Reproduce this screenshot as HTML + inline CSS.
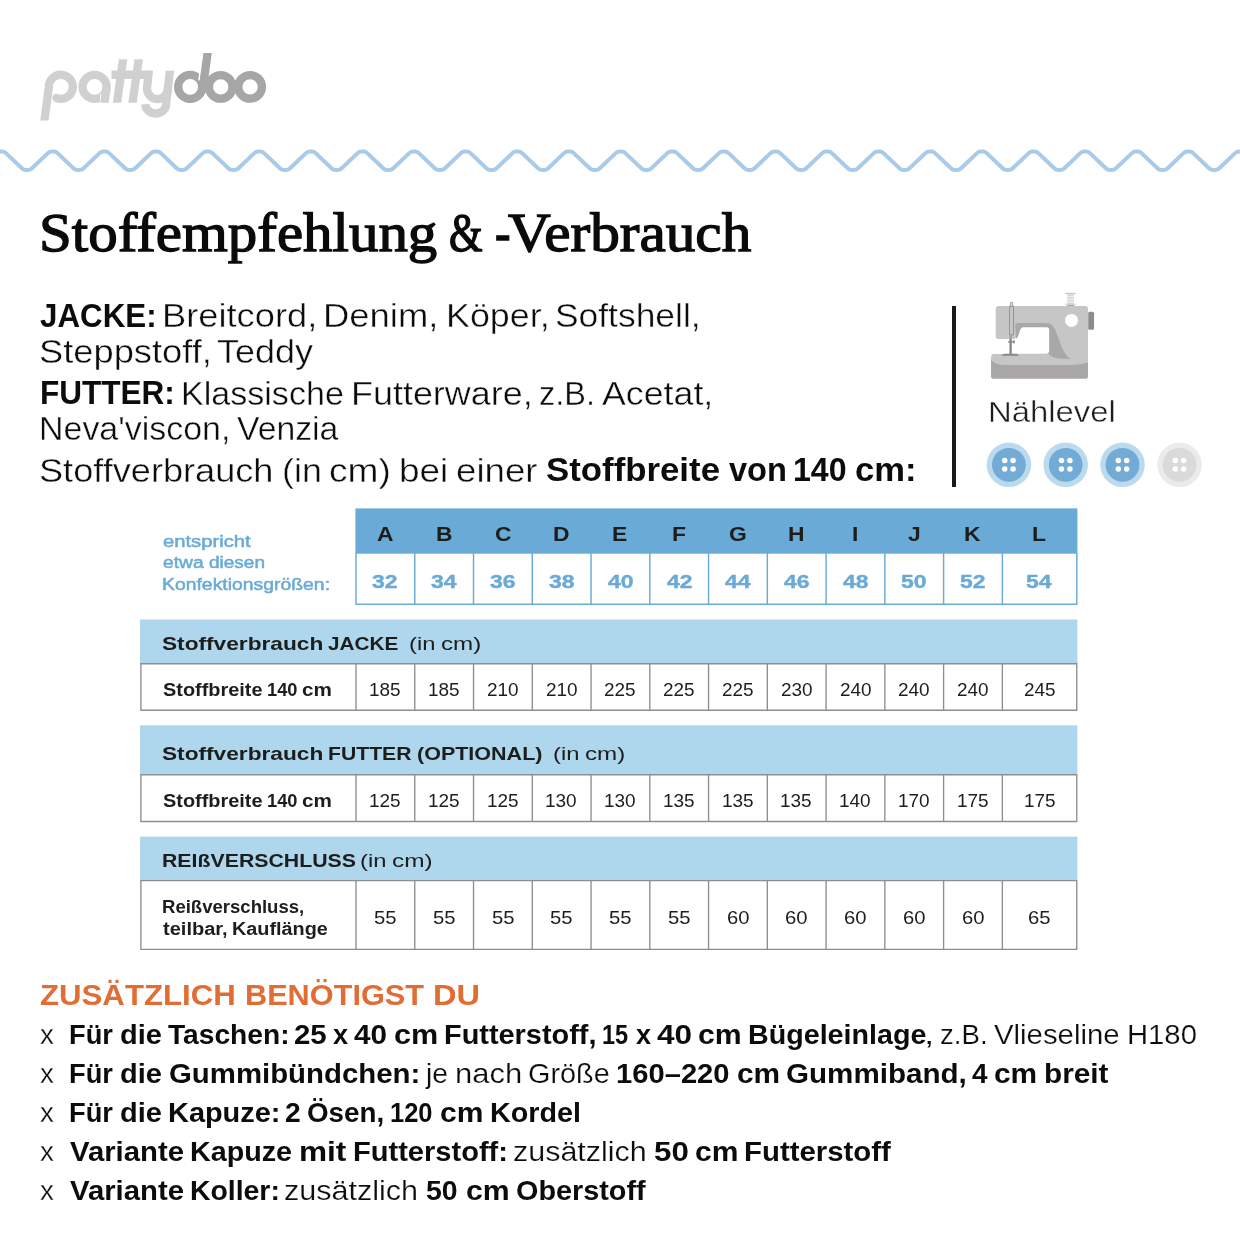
<!DOCTYPE html>
<html lang="de"><head><meta charset="utf-8"><title>Stoffempfehlung &amp; -Verbrauch</title>
<style>
html,body{margin:0;padding:0;background:#fff;}
body{width:1240px;height:1240px;position:relative;overflow:hidden;font-family:"Liberation Sans",sans-serif;}
svg{position:absolute;left:0;top:0;}
span{position:absolute;white-space:pre;line-height:1;transform-origin:0 0;display:block;}
.s{font-family:"Liberation Sans",sans-serif;font-weight:400;}
.f{font-family:"Liberation Serif",serif;font-weight:400;}
.b{font-weight:700;}
</style></head>
<body>
<svg width="1240" height="1240" viewBox="0 0 1240 1240">
<defs>
<clipPath id="cp"><rect x="0" y="60" width="300" height="60.6"/></clipPath>
<clipPath id="ca"><rect x="0" y="60" width="300" height="42.8"/></clipPath>
<clipPath id="ct"><rect x="0" y="59.2" width="300" height="43.6"/></clipPath>
<clipPath id="cy"><rect x="0" y="70.8" width="300" height="60"/></clipPath>
<clipPath id="cd"><rect x="0" y="52.9" width="300" height="60"/></clipPath>
</defs>
<g fill="none" stroke="#d0d0d0" stroke-width="8.3" stroke-linejoin="round">
<path clip-path="url(#cp)" d="M43.9,124.4 L48.85,87.0 A12,12 0 1 1 56.4,97.9"/>
<circle cx="56.4" cy="97.9" r="4.15" fill="#d0d0d0" stroke="none"/>
<circle cx="94.6" cy="86.9" r="12"/>
<path d="M100.7,93.8 V104" stroke="#fff" stroke-width="1.3"/>
<path clip-path="url(#ca)" d="M104.0,106.7 L106.6,86.9"/>
<path clip-path="url(#ct)" d="M123.6,55.2 L116.5,106.8"/>
<path clip-path="url(#ct)" d="M139.35,55.2 L131.95,106.8"/>
<path d="M111.5,74.75 H151"/>
<path clip-path="url(#cy)" d="M149.4,66.0 L147.0,88.0 A10.45,10.8 0 0 0 167.9,88.6"/>
<path clip-path="url(#cy)" d="M170.5,66.0 L166.2,103.0 A10.5,9.9 0 0 1 145.2,104.2"/>
</g>
<g fill="none" stroke="#a6a6a6" stroke-width="8.3">
<circle cx="190.2" cy="86.9" r="12"/>
<path d="M200.60,68 L198.97,80.3" stroke="#fff" stroke-width="1.6"/>
<path clip-path="url(#cd)" d="M208.25,48 L202.42,92"/>
<circle cx="220.7" cy="86.9" r="11.8"/>
<circle cx="250.1" cy="86.9" r="11.8"/>
</g>
<path d="M-53.72,151.60L-49.55,151.60A5.6,5.6 0 0 1 -45.70,153.14L-29.53,168.46A5.6,5.6 0 0 0 -25.68,170.00L-23.74,170.00A5.6,5.6 0 0 0 -19.89,168.46L-3.72,153.14A5.6,5.6 0 0 1 0.13,151.60L2.07,151.60A5.6,5.6 0 0 1 5.92,153.14L22.09,168.46A5.6,5.6 0 0 0 25.94,170.00L27.88,170.00A5.6,5.6 0 0 0 31.73,168.46L47.90,153.14A5.6,5.6 0 0 1 51.75,151.60L53.69,151.60A5.6,5.6 0 0 1 57.54,153.14L73.71,168.46A5.6,5.6 0 0 0 77.56,170.00L79.50,170.00A5.6,5.6 0 0 0 83.35,168.46L99.52,153.14A5.6,5.6 0 0 1 103.37,151.60L105.31,151.60A5.6,5.6 0 0 1 109.16,153.14L125.33,168.46A5.6,5.6 0 0 0 129.18,170.00L131.12,170.00A5.6,5.6 0 0 0 134.97,168.46L151.14,153.14A5.6,5.6 0 0 1 154.99,151.60L156.93,151.60A5.6,5.6 0 0 1 160.78,153.14L176.95,168.46A5.6,5.6 0 0 0 180.80,170.00L182.74,170.00A5.6,5.6 0 0 0 186.59,168.46L202.76,153.14A5.6,5.6 0 0 1 206.61,151.60L208.55,151.60A5.6,5.6 0 0 1 212.40,153.14L228.57,168.46A5.6,5.6 0 0 0 232.42,170.00L234.36,170.00A5.6,5.6 0 0 0 238.21,168.46L254.38,153.14A5.6,5.6 0 0 1 258.23,151.60L260.17,151.60A5.6,5.6 0 0 1 264.02,153.14L280.19,168.46A5.6,5.6 0 0 0 284.04,170.00L285.98,170.00A5.6,5.6 0 0 0 289.83,168.46L306.00,153.14A5.6,5.6 0 0 1 309.85,151.60L311.79,151.60A5.6,5.6 0 0 1 315.64,153.14L331.81,168.46A5.6,5.6 0 0 0 335.66,170.00L337.60,170.00A5.6,5.6 0 0 0 341.45,168.46L357.62,153.14A5.6,5.6 0 0 1 361.47,151.60L363.41,151.60A5.6,5.6 0 0 1 367.26,153.14L383.43,168.46A5.6,5.6 0 0 0 387.28,170.00L389.22,170.00A5.6,5.6 0 0 0 393.07,168.46L409.24,153.14A5.6,5.6 0 0 1 413.09,151.60L415.03,151.60A5.6,5.6 0 0 1 418.88,153.14L435.05,168.46A5.6,5.6 0 0 0 438.90,170.00L440.84,170.00A5.6,5.6 0 0 0 444.69,168.46L460.86,153.14A5.6,5.6 0 0 1 464.71,151.60L466.65,151.60A5.6,5.6 0 0 1 470.50,153.14L486.67,168.46A5.6,5.6 0 0 0 490.52,170.00L492.46,170.00A5.6,5.6 0 0 0 496.31,168.46L512.48,153.14A5.6,5.6 0 0 1 516.33,151.60L518.27,151.60A5.6,5.6 0 0 1 522.12,153.14L538.29,168.46A5.6,5.6 0 0 0 542.14,170.00L544.08,170.00A5.6,5.6 0 0 0 547.93,168.46L564.10,153.14A5.6,5.6 0 0 1 567.95,151.60L569.89,151.60A5.6,5.6 0 0 1 573.74,153.14L589.91,168.46A5.6,5.6 0 0 0 593.76,170.00L595.70,170.00A5.6,5.6 0 0 0 599.55,168.46L615.72,153.14A5.6,5.6 0 0 1 619.57,151.60L621.51,151.60A5.6,5.6 0 0 1 625.36,153.14L641.53,168.46A5.6,5.6 0 0 0 645.38,170.00L647.32,170.00A5.6,5.6 0 0 0 651.17,168.46L667.34,153.14A5.6,5.6 0 0 1 671.19,151.60L673.13,151.60A5.6,5.6 0 0 1 676.98,153.14L693.15,168.46A5.6,5.6 0 0 0 697.00,170.00L698.94,170.00A5.6,5.6 0 0 0 702.79,168.46L718.96,153.14A5.6,5.6 0 0 1 722.81,151.60L724.75,151.60A5.6,5.6 0 0 1 728.60,153.14L744.77,168.46A5.6,5.6 0 0 0 748.62,170.00L750.56,170.00A5.6,5.6 0 0 0 754.41,168.46L770.58,153.14A5.6,5.6 0 0 1 774.43,151.60L776.37,151.60A5.6,5.6 0 0 1 780.22,153.14L796.39,168.46A5.6,5.6 0 0 0 800.24,170.00L802.18,170.00A5.6,5.6 0 0 0 806.03,168.46L822.20,153.14A5.6,5.6 0 0 1 826.05,151.60L827.99,151.60A5.6,5.6 0 0 1 831.84,153.14L848.01,168.46A5.6,5.6 0 0 0 851.86,170.00L853.80,170.00A5.6,5.6 0 0 0 857.65,168.46L873.82,153.14A5.6,5.6 0 0 1 877.67,151.60L879.61,151.60A5.6,5.6 0 0 1 883.46,153.14L899.63,168.46A5.6,5.6 0 0 0 903.48,170.00L905.42,170.00A5.6,5.6 0 0 0 909.27,168.46L925.44,153.14A5.6,5.6 0 0 1 929.29,151.60L931.23,151.60A5.6,5.6 0 0 1 935.08,153.14L951.25,168.46A5.6,5.6 0 0 0 955.10,170.00L957.04,170.00A5.6,5.6 0 0 0 960.89,168.46L977.06,153.14A5.6,5.6 0 0 1 980.91,151.60L982.85,151.60A5.6,5.6 0 0 1 986.70,153.14L1002.87,168.46A5.6,5.6 0 0 0 1006.72,170.00L1008.66,170.00A5.6,5.6 0 0 0 1012.51,168.46L1028.68,153.14A5.6,5.6 0 0 1 1032.53,151.60L1034.47,151.60A5.6,5.6 0 0 1 1038.32,153.14L1054.49,168.46A5.6,5.6 0 0 0 1058.34,170.00L1060.28,170.00A5.6,5.6 0 0 0 1064.13,168.46L1080.30,153.14A5.6,5.6 0 0 1 1084.15,151.60L1086.09,151.60A5.6,5.6 0 0 1 1089.94,153.14L1106.11,168.46A5.6,5.6 0 0 0 1109.96,170.00L1111.90,170.00A5.6,5.6 0 0 0 1115.75,168.46L1131.92,153.14A5.6,5.6 0 0 1 1135.77,151.60L1137.71,151.60A5.6,5.6 0 0 1 1141.56,153.14L1157.73,168.46A5.6,5.6 0 0 0 1161.58,170.00L1163.52,170.00A5.6,5.6 0 0 0 1167.37,168.46L1183.54,153.14A5.6,5.6 0 0 1 1187.39,151.60L1189.33,151.60A5.6,5.6 0 0 1 1193.18,153.14L1209.35,168.46A5.6,5.6 0 0 0 1213.20,170.00L1215.14,170.00A5.6,5.6 0 0 0 1218.99,168.46L1235.16,153.14A5.6,5.6 0 0 1 1239.01,151.60L1240.95,151.60A5.6,5.6 0 0 1 1244.80,153.14L1260.97,168.46A5.6,5.6 0 0 0 1264.82,170.00L1266.76,170.00A5.6,5.6 0 0 0 1270.61,168.46L1286.78,153.14A5.6,5.6 0 0 1 1290.63,151.60L1292.57,151.60A5.6,5.6 0 0 1 1296.42,153.14L1312.59,168.46A5.6,5.6 0 0 0 1316.44,170.00L1320.61,170.00" fill="none" stroke="#a9cae8" stroke-width="4"/>
<rect x="952" y="306" width="4" height="181" fill="#1a1a1a"/>
<g transform="translate(980,285) scale(0.104843)">
<rect x="831" y="84" width="66" height="108" fill="#ececec"/>
<rect x="831" y="88" width="66" height="14" fill="#d6d6d6"/>
<rect x="831" y="116" width="66" height="12" fill="#d6d6d6"/>
<rect x="831" y="144" width="66" height="10" fill="#d6d6d6"/>
<rect x="831" y="170" width="66" height="16" fill="#d6d6d6"/>
<rect x="810" y="75" width="106" height="10" rx="5" fill="#cdcdcd"/>
<rect x="810" y="179" width="106" height="11" rx="5" fill="#d6d6d6"/>
<rect x="831" y="190" width="66" height="13" fill="#a6a6a6"/>
<path fill="#c6c6c6" d="M150,228 Q150,200 178,200 L1002,200 Q1030,200 1030,228 L1030,800 L655,800 L655,420 L345,420 L345,490 Q345,515 320,515 L175,515 Q150,515 150,490 Z"/>
<path fill="#c6c6c6" d="M105,690 Q105,655 140,655 L1030,655 L1030,800 L105,800 Z"/>
<path fill="#a9a7a8" d="M105,712 C150,762 210,762 260,762 L850,762 C930,762 990,757 1030,738 L1030,870 Q1030,895 1005,895 L130,895 Q105,895 105,870 Z"/>
<path fill="#a9a7a8" d="M336,388 Q336,362 362,362 L630,362 C700,362 722,430 760,540 C790,625 820,680 864,703 L770,703 Q690,697 652,655 L345,655 L345,515 Z"/>
<path fill="#fff" d="M412,402 L635,402 Q660,402 660,427 L660,628 Q660,655 633,655 L140,655 L140,518 L330,518 Q360,512 372,465 Q384,402 412,402 Z"/>
<rect x="1032" y="255" width="56" height="172" rx="15" fill="#8d8d8d"/>
<circle cx="873" cy="338" r="62" fill="#fff"/>
<rect x="283" y="203" width="36" height="273" fill="#c6c6c6" stroke="#868686" stroke-width="7"/>
<rect x="290" y="166" width="22" height="36" rx="4" fill="#e8e8e8" stroke="#868686" stroke-width="7"/>
<rect x="281" y="470" width="24" height="50" fill="#a2a2a2"/>
<rect x="281" y="515" width="22" height="145" fill="#868686"/>
<rect x="268" y="536" width="64" height="14" rx="5" fill="#868686"/>
<rect x="318" y="525" width="12" height="34" rx="4" fill="#868686"/>
<path fill="#868686" d="M205,675 Q215,655 240,655 L345,655 Q365,658 372,675 Z"/>
</g>
<circle cx="1008.9" cy="464.8" r="22.3" fill="#bcdaee"/><circle cx="1008.9" cy="464.8" r="16.9" fill="#72abd5"/>
<circle cx="1004.6999999999999" cy="460.6" r="2.75" fill="#fff"/>
<circle cx="1004.6999999999999" cy="469.0" r="2.75" fill="#fff"/>
<circle cx="1013.1" cy="460.6" r="2.75" fill="#fff"/>
<circle cx="1013.1" cy="469.0" r="2.75" fill="#fff"/>
<circle cx="1065.7" cy="464.8" r="22.3" fill="#bcdaee"/><circle cx="1065.7" cy="464.8" r="16.9" fill="#72abd5"/>
<circle cx="1061.5" cy="460.6" r="2.75" fill="#fff"/>
<circle cx="1061.5" cy="469.0" r="2.75" fill="#fff"/>
<circle cx="1069.9" cy="460.6" r="2.75" fill="#fff"/>
<circle cx="1069.9" cy="469.0" r="2.75" fill="#fff"/>
<circle cx="1122.5" cy="464.8" r="22.3" fill="#bcdaee"/><circle cx="1122.5" cy="464.8" r="16.9" fill="#72abd5"/>
<circle cx="1118.3" cy="460.6" r="2.75" fill="#fff"/>
<circle cx="1118.3" cy="469.0" r="2.75" fill="#fff"/>
<circle cx="1126.7" cy="460.6" r="2.75" fill="#fff"/>
<circle cx="1126.7" cy="469.0" r="2.75" fill="#fff"/>
<circle cx="1179.5" cy="464.8" r="22.3" fill="#ebebeb"/><circle cx="1179.5" cy="464.8" r="16.9" fill="#dadada"/>
<circle cx="1175.3" cy="460.6" r="2.75" fill="#fff"/>
<circle cx="1175.3" cy="469.0" r="2.75" fill="#fff"/>
<circle cx="1183.7" cy="460.6" r="2.75" fill="#fff"/>
<circle cx="1183.7" cy="469.0" r="2.75" fill="#fff"/>
<rect x="355.4" y="508.4" width="722.0" height="45.3" fill="#6aaad6"/>
<g stroke="#6aaad6" stroke-width="1.45" fill="none">
<path d="M356.0,553 V604.3 H1076.8 V553"/>
<path d="M414.76,553 V604.3"/>
<path d="M473.52,553 V604.3"/>
<path d="M532.28,553 V604.3"/>
<path d="M591.04,553 V604.3"/>
<path d="M649.80,553 V604.3"/>
<path d="M708.56,553 V604.3"/>
<path d="M767.32,553 V604.3"/>
<path d="M826.08,553 V604.3"/>
<path d="M884.84,553 V604.3"/>
<path d="M943.60,553 V604.3"/>
<path d="M1002.36,553 V604.3"/>
</g>
<rect x="140.05" y="619.5" width="937.35" height="44.50" fill="#aed6ed"/>
<g stroke="#8e8e8e" stroke-width="1.35" fill="none">
<path d="M140.9,663.7 H1076.75 V710.2 H140.9 Z"/>
<path d="M356.00,663.7 V710.2"/>
<path d="M414.76,663.7 V710.2"/>
<path d="M473.52,663.7 V710.2"/>
<path d="M532.28,663.7 V710.2"/>
<path d="M591.04,663.7 V710.2"/>
<path d="M649.80,663.7 V710.2"/>
<path d="M708.56,663.7 V710.2"/>
<path d="M767.32,663.7 V710.2"/>
<path d="M826.08,663.7 V710.2"/>
<path d="M884.84,663.7 V710.2"/>
<path d="M943.60,663.7 V710.2"/>
<path d="M1002.36,663.7 V710.2"/>
</g>
<rect x="140.05" y="725.3" width="937.35" height="49.70" fill="#aed6ed"/>
<g stroke="#8e8e8e" stroke-width="1.35" fill="none">
<path d="M140.9,774.7 H1076.75 V821.5 H140.9 Z"/>
<path d="M356.00,774.7 V821.5"/>
<path d="M414.76,774.7 V821.5"/>
<path d="M473.52,774.7 V821.5"/>
<path d="M532.28,774.7 V821.5"/>
<path d="M591.04,774.7 V821.5"/>
<path d="M649.80,774.7 V821.5"/>
<path d="M708.56,774.7 V821.5"/>
<path d="M767.32,774.7 V821.5"/>
<path d="M826.08,774.7 V821.5"/>
<path d="M884.84,774.7 V821.5"/>
<path d="M943.60,774.7 V821.5"/>
<path d="M1002.36,774.7 V821.5"/>
</g>
<rect x="140.05" y="836.6" width="937.35" height="44.30" fill="#aed6ed"/>
<g stroke="#8e8e8e" stroke-width="1.35" fill="none">
<path d="M140.9,880.6 H1076.75 V949.3 H140.9 Z"/>
<path d="M356.00,880.6 V949.3"/>
<path d="M414.76,880.6 V949.3"/>
<path d="M473.52,880.6 V949.3"/>
<path d="M532.28,880.6 V949.3"/>
<path d="M591.04,880.6 V949.3"/>
<path d="M649.80,880.6 V949.3"/>
<path d="M708.56,880.6 V949.3"/>
<path d="M767.32,880.6 V949.3"/>
<path d="M826.08,880.6 V949.3"/>
<path d="M884.84,880.6 V949.3"/>
<path d="M943.60,880.6 V949.3"/>
<path d="M1002.36,880.6 V949.3"/>
</g>
</svg>
<div style="position:absolute;left:0;top:0;width:1240px;height:1240px;will-change:transform;">
<span class="f" style="left:38.98px;top:205.00px;font-size:55.42px;color:#0a0a0a;transform:scaleX(1.0638);-webkit-text-stroke:1.3px #0a0a0a;">Stoffempfehlung</span>
<span class="f" style="left:448.82px;top:205.00px;font-size:55.42px;color:#0a0a0a;transform:scaleX(0.7790);-webkit-text-stroke:1.3px #0a0a0a;">&amp;</span>
<span class="f" style="left:495.28px;top:205.00px;font-size:55.42px;color:#0a0a0a;transform:scaleX(0.8432);-webkit-text-stroke:1.3px #0a0a0a;">-</span>
<span class="f" style="left:507.86px;top:205.00px;font-size:55.42px;color:#0a0a0a;transform:scaleX(1.0684);-webkit-text-stroke:1.3px #0a0a0a;">Verbrauch</span>
<span class="s b" style="left:39.59px;top:300.00px;font-size:32.46px;color:#0c0c0c;transform:scaleX(0.9648);">JACKE:</span>
<span class="s" style="left:162.38px;top:300.00px;font-size:32.46px;color:#0c0c0c;transform:scaleX(1.1179);-webkit-text-stroke:0.4px #fff;">Breitcord,</span>
<span class="s" style="left:323.37px;top:300.00px;font-size:32.46px;color:#0c0c0c;transform:scaleX(1.1225);-webkit-text-stroke:0.4px #fff;">Denim,</span>
<span class="s" style="left:445.82px;top:300.00px;font-size:32.46px;color:#0c0c0c;transform:scaleX(1.1044);-webkit-text-stroke:0.4px #fff;">Köper,</span>
<span class="s" style="left:555.36px;top:300.00px;font-size:32.46px;color:#0c0c0c;transform:scaleX(1.0906);-webkit-text-stroke:0.4px #fff;">Softshell,</span>
<span class="s" style="left:39.11px;top:336.00px;font-size:32.46px;color:#0c0c0c;transform:scaleX(1.1186);-webkit-text-stroke:0.4px #fff;">Steppstoff,</span>
<span class="s" style="left:217.08px;top:336.00px;font-size:32.46px;color:#0c0c0c;transform:scaleX(1.1072);-webkit-text-stroke:0.4px #fff;">Teddy</span>
<span class="s b" style="left:40.12px;top:377.00px;font-size:32.46px;color:#0c0c0c;transform:scaleX(0.9715);">FUTTER:</span>
<span class="s" style="left:180.97px;top:378.00px;font-size:32.46px;color:#0c0c0c;transform:scaleX(1.0497);-webkit-text-stroke:0.4px #fff;">Klassische</span>
<span class="s" style="left:351.41px;top:378.00px;font-size:32.46px;color:#0c0c0c;transform:scaleX(1.1069);-webkit-text-stroke:0.4px #fff;">Futterware,</span>
<span class="s" style="left:538.91px;top:378.00px;font-size:32.46px;color:#0c0c0c;transform:scaleX(1.0011);-webkit-text-stroke:0.4px #fff;">z.B.</span>
<span class="s" style="left:601.94px;top:378.00px;font-size:32.46px;color:#0c0c0c;transform:scaleX(1.1018);-webkit-text-stroke:0.4px #fff;">Acetat,</span>
<span class="s" style="left:39.08px;top:413.00px;font-size:32.46px;color:#0c0c0c;transform:scaleX(1.0458);-webkit-text-stroke:0.4px #fff;">Neva'viscon,</span>
<span class="s" style="left:237.26px;top:413.00px;font-size:32.46px;color:#0c0c0c;transform:scaleX(1.0397);-webkit-text-stroke:0.4px #fff;">Venzia</span>
<span class="s" style="left:39.17px;top:455.00px;font-size:32.46px;color:#0c0c0c;transform:scaleX(1.1140);-webkit-text-stroke:0.4px #fff;">Stoffverbrauch</span>
<span class="s" style="left:282.37px;top:455.00px;font-size:32.46px;color:#0c0c0c;transform:scaleX(1.1037);-webkit-text-stroke:0.4px #fff;">(in</span>
<span class="s" style="left:328.61px;top:455.00px;font-size:32.46px;color:#0c0c0c;transform:scaleX(1.1432);-webkit-text-stroke:0.4px #fff;">cm)</span>
<span class="s" style="left:399.28px;top:455.00px;font-size:32.46px;color:#0c0c0c;transform:scaleX(1.1387);-webkit-text-stroke:0.4px #fff;">bei</span>
<span class="s" style="left:455.83px;top:455.00px;font-size:32.46px;color:#0c0c0c;transform:scaleX(1.1289);-webkit-text-stroke:0.4px #fff;">einer</span>
<span class="s b" style="left:545.50px;top:454.00px;font-size:32.46px;color:#0c0c0c;transform:scaleX(1.0722);">Stoffbreite</span>
<span class="s b" style="left:728.64px;top:454.00px;font-size:32.46px;color:#0c0c0c;transform:scaleX(1.0039);">von</span>
<span class="s b" style="left:793.21px;top:454.00px;font-size:32.46px;color:#0c0c0c;transform:scaleX(0.9893);">140</span>
<span class="s b" style="left:855.15px;top:454.00px;font-size:32.46px;color:#0c0c0c;transform:scaleX(1.0657);">cm:</span>
<span class="s" style="left:988.34px;top:397.00px;font-size:30.0px;color:#1d1d1b;transform:scaleX(1.0955);-webkit-text-stroke:0.4px #fff;">Nählevel</span>
<span class="s" style="left:162.58px;top:534.00px;font-size:16.52px;color:#6aaad6;transform:scaleX(1.2246);-webkit-text-stroke:0.5px #6aaad6;">entspricht</span>
<span class="s" style="left:162.62px;top:555.00px;font-size:16.52px;color:#6aaad6;transform:scaleX(1.1636);-webkit-text-stroke:0.5px #6aaad6;">etwa</span>
<span class="s" style="left:208.62px;top:555.00px;font-size:16.52px;color:#6aaad6;transform:scaleX(1.1498);-webkit-text-stroke:0.5px #6aaad6;">diesen</span>
<span class="s" style="left:161.71px;top:577.00px;font-size:16.52px;color:#6aaad6;transform:scaleX(1.1731);-webkit-text-stroke:0.5px #6aaad6;">Konfektionsgrößen:</span>
<span class="s b" style="left:162.35px;top:634.00px;font-size:19.28px;color:#1d1d1b;transform:scaleX(1.1767);">Stoffverbrauch</span>
<span class="s b" style="left:328.13px;top:634.00px;font-size:19.28px;color:#1d1d1b;transform:scaleX(1.0775);">JACKE</span>
<span class="s" style="left:409.12px;top:634.00px;font-size:19.28px;color:#1d1d1b;transform:scaleX(1.2330);">(in</span>
<span class="s" style="left:440.91px;top:634.00px;font-size:19.28px;color:#1d1d1b;transform:scaleX(1.2551);">cm)</span>
<span class="s b" style="left:162.35px;top:744.00px;font-size:19.28px;color:#1d1d1b;transform:scaleX(1.1767);">Stoffverbrauch</span>
<span class="s b" style="left:327.77px;top:744.00px;font-size:19.28px;color:#1d1d1b;transform:scaleX(1.0983);">FUTTER</span>
<span class="s b" style="left:416.52px;top:744.00px;font-size:19.28px;color:#1d1d1b;transform:scaleX(1.1163);">(OPTIONAL)</span>
<span class="s" style="left:552.92px;top:744.00px;font-size:19.28px;color:#1d1d1b;transform:scaleX(1.2330);">(in</span>
<span class="s" style="left:584.71px;top:744.00px;font-size:19.28px;color:#1d1d1b;transform:scaleX(1.2551);">cm)</span>
<span class="s b" style="left:161.76px;top:851.00px;font-size:19.28px;color:#1d1d1b;transform:scaleX(1.1049);">REIßVERSCHLUSS</span>
<span class="s" style="left:360.32px;top:851.00px;font-size:19.28px;color:#1d1d1b;transform:scaleX(1.2330);">(in</span>
<span class="s" style="left:392.20px;top:851.00px;font-size:19.28px;color:#1d1d1b;transform:scaleX(1.2650);">cm)</span>
<span class="s b" style="left:162.52px;top:681.00px;font-size:18.26px;color:#1d1d1b;transform:scaleX(1.0904);">Stoffbreite</span>
<span class="s b" style="left:266.56px;top:681.00px;font-size:18.26px;color:#1d1d1b;transform:scaleX(0.9996);">140</span>
<span class="s b" style="left:302.41px;top:681.00px;font-size:18.26px;color:#1d1d1b;transform:scaleX(1.1337);">cm</span>
<span class="s b" style="left:162.52px;top:792.00px;font-size:18.26px;color:#1d1d1b;transform:scaleX(1.0904);">Stoffbreite</span>
<span class="s b" style="left:266.56px;top:792.00px;font-size:18.26px;color:#1d1d1b;transform:scaleX(0.9996);">140</span>
<span class="s b" style="left:302.41px;top:792.00px;font-size:18.26px;color:#1d1d1b;transform:scaleX(1.1337);">cm</span>
<span class="s b" style="left:161.94px;top:898.00px;font-size:18.26px;color:#1d1d1b;transform:scaleX(1.0158);">Reißverschluss,</span>
<span class="s b" style="left:162.94px;top:920.00px;font-size:18.26px;color:#1d1d1b;transform:scaleX(1.0980);">teilbar,</span>
<span class="s b" style="left:231.60px;top:920.00px;font-size:18.26px;color:#1d1d1b;transform:scaleX(1.0869);">Kauflänge</span>
<span class="s b" style="left:40.12px;top:980.00px;font-size:29.42px;color:#e16d34;transform:scaleX(1.0605);">ZUSÄTZLICH</span>
<span class="s b" style="left:245.04px;top:980.00px;font-size:29.42px;color:#e16d34;transform:scaleX(1.0434);">BENÖTIGST</span>
<span class="s b" style="left:432.92px;top:980.00px;font-size:29.42px;color:#e16d34;transform:scaleX(1.1063);">DU</span>
<span class="s" style="left:40.47px;top:1021.00px;font-size:27.68px;color:#0c0c0c;transform:scaleX(1.0057);-webkit-text-stroke:0.3px #fff;">x</span>
<span class="s" style="left:40.47px;top:1060.00px;font-size:27.68px;color:#0c0c0c;transform:scaleX(1.0057);-webkit-text-stroke:0.3px #fff;">x</span>
<span class="s" style="left:40.47px;top:1099.00px;font-size:27.68px;color:#0c0c0c;transform:scaleX(1.0057);-webkit-text-stroke:0.3px #fff;">x</span>
<span class="s" style="left:40.47px;top:1138.00px;font-size:27.68px;color:#0c0c0c;transform:scaleX(1.0057);-webkit-text-stroke:0.3px #fff;">x</span>
<span class="s" style="left:40.47px;top:1177.00px;font-size:27.68px;color:#0c0c0c;transform:scaleX(1.0057);-webkit-text-stroke:0.3px #fff;">x</span>
<span class="s b" style="left:68.93px;top:1021.00px;font-size:27.68px;color:#0c0c0c;transform:scaleX(0.9848);">Für</span>
<span class="s b" style="left:120.27px;top:1021.00px;font-size:27.68px;color:#0c0c0c;transform:scaleX(1.0470);">die</span>
<span class="s b" style="left:168.39px;top:1021.00px;font-size:27.68px;color:#0c0c0c;transform:scaleX(1.0174);">Taschen:</span>
<span class="s b" style="left:294.07px;top:1021.00px;font-size:27.68px;color:#0c0c0c;transform:scaleX(1.0639);">25</span>
<span class="s b" style="left:333.19px;top:1021.00px;font-size:27.68px;color:#0c0c0c;transform:scaleX(0.9797);">x</span>
<span class="s b" style="left:354.00px;top:1021.00px;font-size:27.68px;color:#0c0c0c;transform:scaleX(1.0726);">40</span>
<span class="s b" style="left:394.47px;top:1021.00px;font-size:27.68px;color:#0c0c0c;transform:scaleX(1.1053);">cm</span>
<span class="s b" style="left:444.37px;top:1021.00px;font-size:27.68px;color:#0c0c0c;transform:scaleX(1.0442);">Futterstoff,</span>
<span class="s b" style="left:602.27px;top:1021.00px;font-size:27.68px;color:#0c0c0c;transform:scaleX(0.8508);">15</span>
<span class="s b" style="left:636.44px;top:1021.00px;font-size:27.68px;color:#0c0c0c;transform:scaleX(0.9797);">x</span>
<span class="s b" style="left:656.97px;top:1021.00px;font-size:27.68px;color:#0c0c0c;transform:scaleX(1.1402);">40</span>
<span class="s b" style="left:698.49px;top:1021.00px;font-size:27.68px;color:#0c0c0c;transform:scaleX(1.0920);">cm</span>
<span class="s b" style="left:748.14px;top:1021.00px;font-size:27.68px;color:#0c0c0c;transform:scaleX(1.0354);">Bügeleinlage</span>
<span class="s" style="left:923.93px;top:1021.00px;font-size:27.68px;color:#0c0c0c;transform:scaleX(1.3423);-webkit-text-stroke:0.2px #fff;">,</span>
<span class="s" style="left:940.31px;top:1021.00px;font-size:27.68px;color:#0c0c0c;transform:scaleX(0.9990);-webkit-text-stroke:0.2px #fff;">z.B.</span>
<span class="s" style="left:994.44px;top:1021.00px;font-size:27.68px;color:#0c0c0c;transform:scaleX(1.0607);-webkit-text-stroke:0.2px #fff;">Vlieseline</span>
<span class="s" style="left:1126.90px;top:1021.00px;font-size:27.68px;color:#0c0c0c;transform:scaleX(1.0565);-webkit-text-stroke:0.2px #fff;">H180</span>
<span class="s b" style="left:68.93px;top:1060.00px;font-size:27.68px;color:#0c0c0c;transform:scaleX(0.9848);">Für</span>
<span class="s b" style="left:120.27px;top:1060.00px;font-size:27.68px;color:#0c0c0c;transform:scaleX(1.0470);">die</span>
<span class="s b" style="left:168.51px;top:1060.00px;font-size:27.68px;color:#0c0c0c;transform:scaleX(1.0611);">Gummibündchen:</span>
<span class="s" style="left:425.50px;top:1060.00px;font-size:27.68px;color:#0c0c0c;transform:scaleX(1.0197);-webkit-text-stroke:0.2px #fff;">je</span>
<span class="s" style="left:455.43px;top:1060.00px;font-size:27.68px;color:#0c0c0c;transform:scaleX(1.1182);-webkit-text-stroke:0.2px #fff;">nach</span>
<span class="s" style="left:528.37px;top:1060.00px;font-size:27.68px;color:#0c0c0c;transform:scaleX(1.0412);-webkit-text-stroke:0.2px #fff;">Größe</span>
<span class="s b" style="left:615.66px;top:1060.00px;font-size:27.68px;color:#0c0c0c;transform:scaleX(1.0541);">160–220</span>
<span class="s b" style="left:736.50px;top:1060.00px;font-size:27.68px;color:#0c0c0c;transform:scaleX(1.0787);">cm</span>
<span class="s b" style="left:786.00px;top:1060.00px;font-size:27.68px;color:#0c0c0c;transform:scaleX(1.0690);">Gummiband,</span>
<span class="s b" style="left:972.03px;top:1060.00px;font-size:27.68px;color:#0c0c0c;transform:scaleX(1.0090);">4</span>
<span class="s b" style="left:994.00px;top:1060.00px;font-size:27.68px;color:#0c0c0c;transform:scaleX(1.0787);">cm</span>
<span class="s b" style="left:1043.81px;top:1060.00px;font-size:27.68px;color:#0c0c0c;transform:scaleX(1.0754);">breit</span>
<span class="s b" style="left:68.93px;top:1099.00px;font-size:27.68px;color:#0c0c0c;transform:scaleX(0.9848);">Für</span>
<span class="s b" style="left:120.27px;top:1099.00px;font-size:27.68px;color:#0c0c0c;transform:scaleX(1.0470);">die</span>
<span class="s b" style="left:167.62px;top:1099.00px;font-size:27.68px;color:#0c0c0c;transform:scaleX(1.0446);">Kapuze:</span>
<span class="s b" style="left:285.36px;top:1099.00px;font-size:27.68px;color:#0c0c0c;transform:scaleX(1.0178);">2</span>
<span class="s b" style="left:307.06px;top:1099.00px;font-size:27.68px;color:#0c0c0c;transform:scaleX(1.0026);">Ösen,</span>
<span class="s b" style="left:389.64px;top:1099.00px;font-size:27.68px;color:#0c0c0c;transform:scaleX(0.9214);">120</span>
<span class="s b" style="left:440.24px;top:1099.00px;font-size:27.68px;color:#0c0c0c;transform:scaleX(1.0854);">cm</span>
<span class="s b" style="left:490.13px;top:1099.00px;font-size:27.68px;color:#0c0c0c;transform:scaleX(1.0384);">Kordel</span>
<span class="s b" style="left:69.56px;top:1138.00px;font-size:27.68px;color:#0c0c0c;transform:scaleX(1.0583);">Variante</span>
<span class="s b" style="left:190.13px;top:1138.00px;font-size:27.68px;color:#0c0c0c;transform:scaleX(1.0373);">Kapuze</span>
<span class="s b" style="left:299.19px;top:1138.00px;font-size:27.68px;color:#0c0c0c;transform:scaleX(1.1408);">mit</span>
<span class="s b" style="left:353.11px;top:1138.00px;font-size:27.68px;color:#0c0c0c;transform:scaleX(1.0504);">Futterstoff:</span>
<span class="s" style="left:513.46px;top:1138.00px;font-size:27.68px;color:#0c0c0c;transform:scaleX(1.1003);-webkit-text-stroke:0.2px #fff;">zusätzlich</span>
<span class="s b" style="left:654.01px;top:1138.00px;font-size:27.68px;color:#0c0c0c;transform:scaleX(1.1304);">50</span>
<span class="s b" style="left:695.24px;top:1138.00px;font-size:27.68px;color:#0c0c0c;transform:scaleX(1.0854);">cm</span>
<span class="s b" style="left:744.34px;top:1138.00px;font-size:27.68px;color:#0c0c0c;transform:scaleX(1.0618);">Futterstoff</span>
<span class="s b" style="left:69.56px;top:1177.00px;font-size:27.68px;color:#0c0c0c;transform:scaleX(1.0583);">Variante</span>
<span class="s b" style="left:190.15px;top:1177.00px;font-size:27.68px;color:#0c0c0c;transform:scaleX(1.0253);">Koller:</span>
<span class="s" style="left:284.46px;top:1177.00px;font-size:27.68px;color:#0c0c0c;transform:scaleX(1.1024);-webkit-text-stroke:0.2px #fff;">zusätzlich</span>
<span class="s b" style="left:426.10px;top:1177.00px;font-size:27.68px;color:#0c0c0c;transform:scaleX(1.0277);">50</span>
<span class="s b" style="left:465.99px;top:1177.00px;font-size:27.68px;color:#0c0c0c;transform:scaleX(1.0920);">cm</span>
<span class="s b" style="left:516.02px;top:1177.00px;font-size:27.68px;color:#0c0c0c;transform:scaleX(1.0411);">Oberstoff</span>
<span class="s b" style="left:377.09px;top:525.00px;font-size:19.71px;color:#1d1d1b;transform:scaleX(1.1608);">A</span>
<span class="s b" style="left:372.33px;top:572.00px;font-size:19.13px;color:#6aaad6;transform:scaleX(1.2005);-webkit-text-stroke:0.4px #6aaad6;">32</span>
<span class="s" style="left:369.15px;top:681.00px;font-size:18.12px;color:#1d1d1b;transform:scaleX(1.0462);">185</span>
<span class="s" style="left:369.15px;top:792.00px;font-size:18.12px;color:#1d1d1b;transform:scaleX(1.0462);">125</span>
<span class="s" style="left:374.08px;top:909.00px;font-size:18.12px;color:#1d1d1b;transform:scaleX(1.1184);">55</span>
<span class="s b" style="left:435.58px;top:525.00px;font-size:19.71px;color:#1d1d1b;transform:scaleX(1.1608);">B</span>
<span class="s b" style="left:430.91px;top:572.00px;font-size:19.13px;color:#6aaad6;transform:scaleX(1.2005);-webkit-text-stroke:0.4px #6aaad6;">34</span>
<span class="s" style="left:427.91px;top:681.00px;font-size:18.12px;color:#1d1d1b;transform:scaleX(1.0462);">185</span>
<span class="s" style="left:427.91px;top:792.00px;font-size:18.12px;color:#1d1d1b;transform:scaleX(1.0462);">125</span>
<span class="s" style="left:432.84px;top:909.00px;font-size:18.12px;color:#1d1d1b;transform:scaleX(1.1184);">55</span>
<span class="s b" style="left:494.62px;top:525.00px;font-size:19.71px;color:#1d1d1b;transform:scaleX(1.1608);">C</span>
<span class="s b" style="left:489.85px;top:572.00px;font-size:19.13px;color:#6aaad6;transform:scaleX(1.2005);-webkit-text-stroke:0.4px #6aaad6;">36</span>
<span class="s" style="left:486.95px;top:681.00px;font-size:18.12px;color:#1d1d1b;transform:scaleX(1.0462);">210</span>
<span class="s" style="left:486.67px;top:792.00px;font-size:18.12px;color:#1d1d1b;transform:scaleX(1.0462);">125</span>
<span class="s" style="left:491.60px;top:909.00px;font-size:18.12px;color:#1d1d1b;transform:scaleX(1.1184);">55</span>
<span class="s b" style="left:553.07px;top:525.00px;font-size:19.71px;color:#1d1d1b;transform:scaleX(1.1608);">D</span>
<span class="s b" style="left:548.59px;top:572.00px;font-size:19.13px;color:#6aaad6;transform:scaleX(1.2005);-webkit-text-stroke:0.4px #6aaad6;">38</span>
<span class="s" style="left:545.71px;top:681.00px;font-size:18.12px;color:#1d1d1b;transform:scaleX(1.0462);">210</span>
<span class="s" style="left:545.40px;top:792.00px;font-size:18.12px;color:#1d1d1b;transform:scaleX(1.0462);">130</span>
<span class="s" style="left:550.36px;top:909.00px;font-size:18.12px;color:#1d1d1b;transform:scaleX(1.1184);">55</span>
<span class="s b" style="left:612.41px;top:525.00px;font-size:19.71px;color:#1d1d1b;transform:scaleX(1.1608);">E</span>
<span class="s b" style="left:607.81px;top:572.00px;font-size:19.13px;color:#6aaad6;transform:scaleX(1.2005);-webkit-text-stroke:0.4px #6aaad6;">40</span>
<span class="s" style="left:604.49px;top:681.00px;font-size:18.12px;color:#1d1d1b;transform:scaleX(1.0462);">225</span>
<span class="s" style="left:604.16px;top:792.00px;font-size:18.12px;color:#1d1d1b;transform:scaleX(1.0462);">130</span>
<span class="s" style="left:609.12px;top:909.00px;font-size:18.12px;color:#1d1d1b;transform:scaleX(1.1184);">55</span>
<span class="s b" style="left:671.77px;top:525.00px;font-size:19.71px;color:#1d1d1b;transform:scaleX(1.1608);">F</span>
<span class="s b" style="left:666.56px;top:572.00px;font-size:19.13px;color:#6aaad6;transform:scaleX(1.2005);-webkit-text-stroke:0.4px #6aaad6;">42</span>
<span class="s" style="left:663.25px;top:681.00px;font-size:18.12px;color:#1d1d1b;transform:scaleX(1.0462);">225</span>
<span class="s" style="left:662.95px;top:792.00px;font-size:18.12px;color:#1d1d1b;transform:scaleX(1.0462);">135</span>
<span class="s" style="left:667.88px;top:909.00px;font-size:18.12px;color:#1d1d1b;transform:scaleX(1.1184);">55</span>
<span class="s b" style="left:729.21px;top:525.00px;font-size:19.71px;color:#1d1d1b;transform:scaleX(1.1608);">G</span>
<span class="s b" style="left:725.13px;top:572.00px;font-size:19.13px;color:#6aaad6;transform:scaleX(1.2005);-webkit-text-stroke:0.4px #6aaad6;">44</span>
<span class="s" style="left:722.01px;top:681.00px;font-size:18.12px;color:#1d1d1b;transform:scaleX(1.0462);">225</span>
<span class="s" style="left:721.71px;top:792.00px;font-size:18.12px;color:#1d1d1b;transform:scaleX(1.0462);">135</span>
<span class="s" style="left:726.59px;top:909.00px;font-size:18.12px;color:#1d1d1b;transform:scaleX(1.1184);">60</span>
<span class="s b" style="left:788.30px;top:525.00px;font-size:19.71px;color:#1d1d1b;transform:scaleX(1.1608);">H</span>
<span class="s b" style="left:784.08px;top:572.00px;font-size:19.13px;color:#6aaad6;transform:scaleX(1.2005);-webkit-text-stroke:0.4px #6aaad6;">46</span>
<span class="s" style="left:780.75px;top:681.00px;font-size:18.12px;color:#1d1d1b;transform:scaleX(1.0462);">230</span>
<span class="s" style="left:780.47px;top:792.00px;font-size:18.12px;color:#1d1d1b;transform:scaleX(1.0462);">135</span>
<span class="s" style="left:785.35px;top:909.00px;font-size:18.12px;color:#1d1d1b;transform:scaleX(1.1184);">60</span>
<span class="s b" style="left:852.17px;top:525.00px;font-size:19.71px;color:#1d1d1b;transform:scaleX(1.1608);">I</span>
<span class="s b" style="left:842.81px;top:572.00px;font-size:19.13px;color:#6aaad6;transform:scaleX(1.2005);-webkit-text-stroke:0.4px #6aaad6;">48</span>
<span class="s" style="left:839.51px;top:681.00px;font-size:18.12px;color:#1d1d1b;transform:scaleX(1.0462);">240</span>
<span class="s" style="left:839.20px;top:792.00px;font-size:18.12px;color:#1d1d1b;transform:scaleX(1.0462);">140</span>
<span class="s" style="left:844.11px;top:909.00px;font-size:18.12px;color:#1d1d1b;transform:scaleX(1.1184);">60</span>
<span class="s b" style="left:908.32px;top:525.00px;font-size:19.71px;color:#1d1d1b;transform:scaleX(1.1608);">J</span>
<span class="s b" style="left:901.12px;top:572.00px;font-size:19.13px;color:#6aaad6;transform:scaleX(1.2005);-webkit-text-stroke:0.4px #6aaad6;">50</span>
<span class="s" style="left:898.27px;top:681.00px;font-size:18.12px;color:#1d1d1b;transform:scaleX(1.0462);">240</span>
<span class="s" style="left:897.96px;top:792.00px;font-size:18.12px;color:#1d1d1b;transform:scaleX(1.0462);">170</span>
<span class="s" style="left:902.87px;top:909.00px;font-size:18.12px;color:#1d1d1b;transform:scaleX(1.1184);">60</span>
<span class="s b" style="left:964.03px;top:525.00px;font-size:19.71px;color:#1d1d1b;transform:scaleX(1.1608);">K</span>
<span class="s b" style="left:959.87px;top:572.00px;font-size:19.13px;color:#6aaad6;transform:scaleX(1.2005);-webkit-text-stroke:0.4px #6aaad6;">52</span>
<span class="s" style="left:957.03px;top:681.00px;font-size:18.12px;color:#1d1d1b;transform:scaleX(1.0462);">240</span>
<span class="s" style="left:956.75px;top:792.00px;font-size:18.12px;color:#1d1d1b;transform:scaleX(1.0462);">175</span>
<span class="s" style="left:961.63px;top:909.00px;font-size:18.12px;color:#1d1d1b;transform:scaleX(1.1184);">60</span>
<span class="s b" style="left:1032.32px;top:525.00px;font-size:19.71px;color:#1d1d1b;transform:scaleX(1.1608);">L</span>
<span class="s b" style="left:1026.48px;top:572.00px;font-size:19.13px;color:#6aaad6;transform:scaleX(1.2005);-webkit-text-stroke:0.4px #6aaad6;">54</span>
<span class="s" style="left:1023.85px;top:681.00px;font-size:18.12px;color:#1d1d1b;transform:scaleX(1.0462);">245</span>
<span class="s" style="left:1023.55px;top:792.00px;font-size:18.12px;color:#1d1d1b;transform:scaleX(1.0462);">175</span>
<span class="s" style="left:1028.46px;top:909.00px;font-size:18.12px;color:#1d1d1b;transform:scaleX(1.1184);">65</span>
</div>
</body></html>
